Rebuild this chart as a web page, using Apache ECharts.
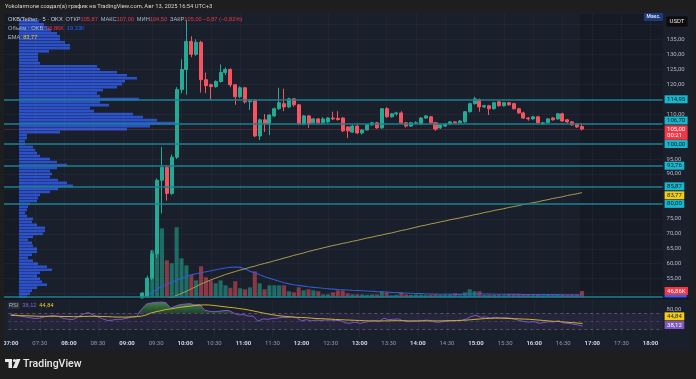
<!DOCTYPE html>
<html><head><meta charset="utf-8">
<script src="https://cdn.jsdelivr.net/npm/echarts@6/dist/echarts.min.js"></script>
<style>html,body{margin:0;padding:0;background:#1e1e1e;}#c{width:696px;height:379px;}</style>
</head><body><div id="c"></div><script>
// ---------------- data ----------------
const timeTicks = ['07:00','07:30','08:00','08:30','09:00','09:30','10:00','10:30','11:00','11:30','12:00','12:30','13:00','13:30','14:00','14:30','15:00','15:30','16:00','16:30','17:00','17:30','18:00'];
const priceTicks = [55,60,65,70,75,90,95,110,120,125,130,135];
const gridPrices = [50,55,60,65,70,75,80,85,90,95,100,105,110,115,120,125,130,135,140];
const rsiTicks = [80];
const firstCandleTime = '09:20';
const opens = [48.6,49.0,55.2,63.3,87.9,92.2,83.5,95.6,118.2,124.9,
  134.3,130.0,134.0,121.5,119.8,119.2,120.9,123.9,124.9,119.8,
  115.8,118.8,114.1,114.5,102.7,108.1,106.7,109.4,111.8,113.5,
  112.4,115.1,113.1,106.7,109.4,107.1,108.4,107.1,107.4,108.7,
  108.6,108.7,105.7,104.0,106.0,103.7,104.7,106.4,107.1,105.4,
  111.8,109.1,110.1,110.4,107.1,106.0,107.0,106.7,108.7,109.1,
  107.1,105.4,106.0,106.7,107.4,107.1,107.4,110.8,113.5,114.8,
  112.4,112.8,111.8,114.1,112.8,113.8,113.5,111.8,110.4,108.7,
  108.4,109.1,106.7,107.1,108.7,108.4,110.1,108.1,107.4,106.7,
  105.87];
const closes = [50.2,55.2,63.3,87.9,92.2,83.5,95.6,118.2,124.9,134.3,
  130.0,134.0,121.5,119.5,119.2,120.9,123.9,124.9,119.8,115.8,
  118.8,114.1,114.5,102.7,108.1,106.7,109.7,111.8,113.8,112.4,
  115.1,113.1,106.7,109.4,106.7,108.4,107.1,108.4,108.7,108.4,
  108.2,104.4,104.4,106.0,103.7,104.7,106.4,107.1,105.4,111.8,
  109.1,110.1,110.4,107.1,106.0,107.1,107.1,108.7,109.4,107.1,
  105.0,106.4,106.7,107.4,107.1,107.7,110.8,113.5,115.1,112.4,
  112.8,111.8,113.8,112.8,113.8,113.1,111.8,110.4,108.7,108.4,
  109.1,107.1,107.1,108.4,108.1,110.1,107.7,107.4,106.4,105.7,
  105.00];
const highs = [50.5,56.0,64.5,88.5,99.0,93.0,96.5,119.0,128.3,141.5,
  136.0,135.0,134.5,123.9,120.2,121.3,126.6,125.6,125.3,120.0,
  119.3,119.1,115.0,115.0,108.5,110.0,110.0,112.2,118.8,118.5,
  115.5,115.4,113.4,109.7,109.7,108.7,108.7,109.0,109.0,110.8,
  111.0,109.0,106.0,106.4,106.3,105.0,106.7,107.4,107.4,112.0,
  112.3,110.4,110.8,111.0,107.4,107.4,107.6,109.0,109.7,109.4,
  107.4,106.7,107.0,107.7,107.7,108.0,111.0,113.8,115.8,115.2,
  113.1,113.1,114.1,114.4,114.1,114.1,113.8,112.1,110.8,109.0,
  109.4,109.4,107.4,108.7,109.0,110.4,110.4,108.4,107.7,107.0,
  107.00];
const lows = [48.3,48.6,54.5,62.0,76.8,81.1,83.0,95.0,117.0,116.5,
  129.0,129.5,117.2,117.0,114.8,118.8,120.5,123.0,119.0,113.1,
  115.3,113.5,111.4,102.3,101.3,104.0,103.0,109.0,111.4,111.0,
  112.0,112.5,106.3,106.3,105.4,106.8,106.8,106.9,107.1,108.0,
  107.8,104.0,102.0,103.7,103.4,103.2,104.5,106.1,105.1,105.1,
  108.8,108.8,109.5,106.8,105.5,105.7,106.5,106.4,108.4,106.8,
  104.4,105.0,105.7,106.4,106.8,106.8,107.1,110.5,113.2,110.8,
  112.1,109.7,111.5,112.5,112.5,112.8,111.5,110.1,108.4,107.8,
  108.1,106.8,106.4,106.8,107.8,108.1,107.4,107.1,106.1,105.4,
  104.50];
const volumes = [7,112,350,476,513,275,253,521,290,238,
  164,126,231,149,126,104,126,89,71,119,
  67,60,74,193,104,60,89,89,89,89,
  45,37,74,52,60,52,45,22,22,37,
  52,52,30,22,22,22,19,22,22,45,
  37,15,19,37,22,18,20,18,16,20,
  22,17,18,22,30,15,37,60,45,45,
  18,20,17,19,16,18,20,22,19,18,
  16,20,15,18,17,20,22,18,20,22,
  46.86];
const volumeMA = [2,15,37,60,82,97,112,126,141,156,
  167,175,182,190,197,205,212,218,223,225,
  223,212,193,182,167,153,141,130,119,108,
  100,93,88,83,78,74,71,67,64,61,
  58,56,54,52,51,49,47,45,42,41,
  39,37,36,33,32,30,28,27,25,24,
  24,23,23,23,22,22,22,23,24,24,
  24,24,23,23,23,22,22,22,21,21,
  21,20,20,20,20,20,19.5,19.5,19.3,19.3,
  19.33];
const ema = [46.2,46.4,46.8,47.3,47.8,48.3,48.8,49.4,50.1,50.8,
  51.6,52.4,53.2,53.9,54.6,55.2,55.8,56.4,56.9,57.4,
  57.9,58.3,58.8,59.2,59.7,60.1,60.5,61.0,61.4,61.9,
  62.3,62.8,63.2,63.6,64.1,64.5,64.9,65.3,65.7,66.1,
  66.4,66.8,67.1,67.5,67.8,68.2,68.6,68.9,69.3,69.6,
  70.0,70.3,70.7,71.1,71.4,71.8,72.2,72.6,72.9,73.3,
  73.6,74.0,74.3,74.7,75.0,75.3,75.7,76.0,76.4,76.7,
  77.1,77.4,77.8,78.1,78.4,78.8,79.1,79.4,79.8,80.1,
  80.4,80.7,81.1,81.4,81.8,82.1,82.4,82.8,83.1,83.4,
  83.77];
// RSI from 07:00
const rsi = [68,66,63,61,59,57,58,61,63,65,
  61,57,55,55,62,68,72,66,61,56,
  52,53,55,55,58,61,62,80,93,96,
  97,98,97,83,88,92,93,94,91,92,
  78,75,74,75,77,77,71,66,67,63,
  63,50,56,55,57,58,60,59,61,59,
  51,54,51,53,52,53,53,52,52,46,
  45,48,45,47,50,51,49,58,54,55,
  56,51,49,50,50,52,53,50,47,49,
  50,51,51,52,56,62,65,60,61,58,
  60,58,59,58,55,52,49,48,49,45,
  47,49,48,52,46,45,43,41,38.12];
const rsiMA = [65,64.5,64,64,63.5,63,62.5,62.5,62.5,62.5,
  62.5,62,62,61.5,61.5,62,62.5,62.5,62.5,62,
  61.5,61,60.5,60.5,60.5,61,61.5,63,66,71,
  74,76.5,79.5,81,83,85,86.5,88,89.5,90.5,
  91,90.7,89.5,88,86.5,85,84,82,80.5,78.5,
  76,73.5,71,68.5,66.5,64.5,63,62,61,60,
  59.5,59,58,57,56.5,56,55.5,54.5,54,53.5,
  53,52.5,52,51.5,51,51,51,51,51,51.5,
  51.5,51.5,51,51,51,51,51,51,51,51,
  51.5,51.5,52,52.5,53,54,55,56,57,57.5,
  58,58,57.5,57,56.5,56,55.5,55,54,53,
  52,51,50,49.5,48.5,47.5,46.5,45.5,44.84];
// visible-range volume profile, 1-unit price rows starting at 49
const profileLow = 49;
const profileVol = [8,11,13,18,28,23,21,18,21,33,
  28,19,14,9,13,18,18,14,13,9,
  14,24,26,26,18,13,14,8,6,8,
  9,11,18,19,21,31,39,54,48,39,
  31,33,31,38,48,38,31,21,18,16,
  14,6,6,8,8,41,108,131,158,138,
  124,114,75,71,90,81,120,81,78,84,
  98,103,106,118,108,98,81,78,21,19,
  19,19,30,51,51,46,41,41,38,32,
  28,25,20];
const hLines = [114.95,106.70,100.00,92.76,85.87,80.00,48.85];
const lastPrice = 105.00, countdown = '00:21';
const emaLast = 83.77, volLast = 46.86, volMaLast = 19.33, rsiLast = 38.12, rsiMaLast = 44.84;

// ---------------- layout ----------------
const categories = [];
for (let m = 7*60; m <= 18*60+10; m += 5) categories.push(String(Math.floor(m/60)).padStart(2,'0') + ':' + String(m%60).padStart(2,'0'));
const BAND = 4.884, LEFT = 3.26;
const RIGHT = 696 - (LEFT + categories.length*BAND);
const MAIN_TOP = 14, MAIN_BOT = 297.5;
const PRICE_MAX = 135 + (39.3-MAIN_TOP)/2.9925, PRICE_MIN = 135 - (MAIN_BOT-39.3)/2.9925;
const UPP = (PRICE_MAX-PRICE_MIN)/(MAIN_BOT-MAIN_TOP);
const VOL_BOT = 297.3, VOL_MAX = (VOL_BOT-MAIN_TOP)*7.44, VPP = 7.44;
const RSI_TOP = 300, RSI_BOT = 337;
const RSI_MAX = 50 + (321.3-RSI_TOP)/0.4, RSI_MIN = 50 - (RSI_BOT-321.3)/0.4, RPP = 2.5;
const PROF_TOP = 39.3 - ((profileLow+profileVol.length-0.5)-135)*2.9925;
const PROF_BOT = 39.3 + (135-(profileLow-0.5))*2.9925;

const fmt = v => v.toFixed(2).replace('.', ',');
const pad = categories.indexOf(firstCandleTime);
const at = (arr, k) => { const i = k - pad; return (i >= 0 && i < arr.length) ? arr[i] : '-'; };
const candleData = categories.map((c,k) => { const i = k-pad; return (i>=0 && i<opens.length) ? [opens[i], closes[i], lows[i], highs[i]] : '-'; });
const volData = categories.map((c,k) => { const i = k-pad; if (i<0 || i>=volumes.length) return '-';
  return {value: volumes[i], itemStyle: {color: closes[i] >= opens[i] ? 'rgba(34,171,148,0.55)' : 'rgba(247,82,95,0.5)'}}; });
const volMaData = categories.map((c,k) => at(volumeMA,k));
const emaData = categories.map((c,k) => at(ema,k));
const rsiData = categories.map((c,k) => k < rsi.length ? rsi[k] : '-');
const rsiMaData = categories.map((c,k) => k < rsiMA.length ? rsiMA[k] : '-');
const rsiHot = categories.map((c,k) => k < rsi.length ? Math.max(rsi[k], 70) : '-');
const profCats = profileVol.map((v,i) => String(profileLow+i));
const blank = categories.map(() => '-');

const tagLabel = (text, bg, fg) => ({show:true, position:'end', distance:2, formatter:text, backgroundColor:bg, color:fg,
  padding:[1,2.5,0.5,2.5], fontSize:6, lineHeight:6.5, fontFamily:'Roboto'});
const HIDE = {color:'rgba(0,0,0,0)', width:0.01};
const tag = (value, axisKey, text, bg, fg) => ({[axisKey]: value, lineStyle:HIDE, label: tagLabel(text,bg,fg)});
const CY = '#19b6cb', CYT = '#0b1a24';

const catAxis = (gi, extra) => Object.assign({type:'category', gridIndex:gi, data:categories, boundaryGap:true,
  axisLine:{show:false}, axisTick:{show:false}, axisLabel:{show:false}, splitLine:{show:false}}, extra||{});

const option = {
  animation:false,
  backgroundColor:'#1a1f2c',
  textStyle:{fontFamily:'Roboto, sans-serif'},
  grid:[
    {left:LEFT, right:RIGHT, top:MAIN_TOP, bottom:379-MAIN_BOT},
    {left:LEFT, right:RIGHT, top:MAIN_TOP, bottom:379-VOL_BOT},
    {left:19, right:696-619, top:PROF_TOP, bottom:379-PROF_BOT},
    {left:LEFT, right:RIGHT, top:RSI_TOP, bottom:379-RSI_BOT}
  ],
  xAxis:[
    catAxis(0), catAxis(1),
    {type:'value', gridIndex:2, min:0, max:600, show:false},
    catAxis(3, {axisLabel:{show:true, margin:3, interval:(i,v)=>timeTicks.includes(v),
      formatter: v => v.endsWith(':00') ? '{h|'+v+'}' : '{m|'+v+'}',
      rich:{h:{color:'#d1d4dc', fontWeight:'bold', fontSize:6}, m:{color:'#9598a1', fontSize:6}}}})
  ],
  yAxis:[
    {type:'value', gridIndex:0, position:'right', min:PRICE_MIN, max:PRICE_MAX, axisLine:{show:false}, axisTick:{show:false}, splitLine:{show:false},
      axisLabel:{customValues:priceTicks, formatter:v=>fmt(v), color:'#b2b5be', fontSize:6, margin:4}},
    {type:'value', gridIndex:1, min:0, max:VOL_MAX, show:false},
    {type:'category', gridIndex:2, data:profCats, show:false},
    {type:'value', gridIndex:3, position:'right', min:RSI_MIN, max:RSI_MAX, axisLine:{show:false}, axisTick:{show:false}, splitLine:{show:false},
      axisLabel:{customValues:rsiTicks, formatter:v=>fmt(v), color:'#b2b5be', fontSize:6, margin:4}}
  ],
  series:[
    {name:'grid', type:'line', xAxisIndex:0, yAxisIndex:0, data:blank, z:0, silent:true,
      markLine:{silent:true, symbol:['none','none'], label:{show:false},
        data:[...gridPrices.map(p=>({yAxis:p, lineStyle:{color:'rgba(255,255,255,0.035)', width:1, type:'solid'}})),
              ...timeTicks.slice(1).map(t=>({xAxis:t, lineStyle:{color:'rgba(255,255,255,0.035)', width:1, type:'solid'}}))]}},
    {name:'rsigrid', type:'line', xAxisIndex:3, yAxisIndex:3, data:blank, z:0, silent:true,
      markLine:{silent:true, symbol:['none','none'], label:{show:false},
        data:timeTicks.slice(1).map(t=>({xAxis:t, lineStyle:{color:'rgba(255,255,255,0.035)', width:1, type:'solid'}}))}},
    {name:'profile', type:'bar', xAxisIndex:2, yAxisIndex:2, data:profileVol, barWidth:'88%', z:1, silent:true,
      itemStyle:{color:'#2b50c8'}},
    {name:'volume', type:'bar', xAxisIndex:1, yAxisIndex:1, data:volData, barWidth:'84%', z:1.5, silent:true,
      markLine:{silent:true, symbol:['none','none'], data:[
        {yAxis: volMaLast - 1.5*VPP, lineStyle:HIDE, label:{show:true, position:'end', distance:2, formatter:'{s| }',
          rich:{s:{width:22, height:2.4, lineHeight:2.4, fontSize:2, backgroundColor:'#2962ff'}}}},
        tag(volLast, 'yAxis', fmt(volLast)+'K', '#f23645', '#ffffff')]}},
    {name:'volMA', type:'line', xAxisIndex:1, yAxisIndex:1, data:volMaData, symbol:'none', z:1.6, silent:true,
      lineStyle:{color:'#2f5bd6', width:1.1}},
    {name:'candles', type:'candlestick', xAxisIndex:0, yAxisIndex:0, data:candleData, barWidth:'72%', z:3, silent:true,
      itemStyle:{color:'#22ab94', color0:'#f7525f', borderColor:'#22ab94', borderColor0:'#f7525f', borderWidth:1},
      markLine:{silent:true, symbol:['none','none'], data:[
        ...hLines.map(v=>({yAxis:v, lineStyle:{color:'#1b8192', width:1.5, type:'solid'}, label:{show:false}})),
        {yAxis:lastPrice, lineStyle:{color:'rgba(242,54,69,0.4)', width:1, type:'dotted'}, label:{show:false}},
        tag(114.95, 'yAxis', fmt(114.95), CY, CYT),
        tag(106.70 + 3.5*UPP, 'yAxis', fmt(106.70), CY, CYT),
        tag(100.00, 'yAxis', fmt(100.00), CY, CYT),
        tag(92.76, 'yAxis', fmt(92.76), CY, CYT),
        tag(85.87, 'yAxis', fmt(85.87), CY, CYT),
        tag(80.00, 'yAxis', fmt(80.00), CY, CYT),
        tag(lastPrice - 3.5*UPP, 'yAxis', fmt(lastPrice)+'\n'+countdown, '#f23645', '#ffffff')
      ]}},
    {name:'EMA', type:'line', xAxisIndex:0, yAxisIndex:0, data:emaData, symbol:'none', z:3.5, silent:true,
      lineStyle:{color:'#a99b4c', width:1},
      markLine:{silent:true, symbol:['none','none'], data:[tag(emaLast - 2.7*UPP, 'yAxis', fmt(emaLast), '#f2cc15', '#1a1a1a')]}},
    {name:'rsiHot', type:'line', xAxisIndex:3, yAxisIndex:3, data:rsiHot, symbol:'none', z:2, silent:true,
      lineStyle:{opacity:0},
      areaStyle:{origin:70, color:new echarts.graphic.LinearGradient(0,0,0,1,[{offset:0,color:'rgba(86,185,90,0.95)'},{offset:1,color:'rgba(46,125,50,0.55)'}])}},
    {name:'RSI', type:'line', xAxisIndex:3, yAxisIndex:3, data:rsiData, symbol:'none', z:3, silent:true,
      lineStyle:{color:'#7e57c2', width:1},
      markArea:{silent:true, itemStyle:{color:'rgba(126,87,194,0.10)'}, data:[[{yAxis:30},{yAxis:70}]]},
      markLine:{silent:true, symbol:['none','none'], data:[
        {yAxis:70, lineStyle:{color:'rgba(120,123,134,0.55)', width:1, type:[3,3]}, label:{show:false}},
        {yAxis:50, lineStyle:{color:'rgba(120,123,134,0.35)', width:1, type:[3,3]}, label:{show:false}},
        {yAxis:30, lineStyle:{color:'rgba(120,123,134,0.55)', width:1, type:[3,3]}, label:{show:false}},
        tag(rsiLast + 1*RPP, 'yAxis', fmt(rsiLast), '#7e57c2', '#ffffff')
      ]}},
    {name:'RSI MA', type:'line', xAxisIndex:3, yAxisIndex:3, data:rsiMaData, symbol:'none', z:3.2, silent:true,
      lineStyle:{color:'#d4b12e', width:1},
      markLine:{silent:true, symbol:['none','none'], data:[tag(rsiMaLast + 7*RPP, 'yAxis', fmt(rsiMaLast), '#f2cc15', '#1a1a1a')]}}
  ],
  graphic:[
    {type:'rect', z:-10, silent:true, shape:{x:4, y:MAIN_TOP, width:15, height:MAIN_BOT-MAIN_TOP}, style:{fill:'#161a24'}},
    {type:'rect', z:-10, silent:true, shape:{x:580, y:MAIN_TOP, width:662.6-580, height:MAIN_BOT-MAIN_TOP}, style:{fill:'#161a25'}},
    {type:'rect', z:-10, silent:true, shape:{x:4, y:298, width:688, height:1.2}, style:{fill:'#12151d'}},
    // outer frame
    {type:'rect', z:100, silent:true, shape:{x:0, y:0, width:696, height:12}, style:{fill:'#1e1e1e'}},
    {type:'rect', z:100, silent:true, shape:{x:0, y:350, width:696, height:29}, style:{fill:'#1e1e1e'}},
    {type:'rect', z:100, silent:true, shape:{x:0, y:0, width:4, height:379}, style:{fill:'#1e1e1e'}},
    {type:'rect', z:100, silent:true, shape:{x:691, y:0, width:5, height:379}, style:{fill:'#1e1e1e'}},
    {type:'text', z:101, silent:true, style:{x:5, y:6.5, text:'Yokolarmone создал(а) график на TradingView.com, Авг 13, 2025 16:54 UTC+3',
      fill:'#d6d6d6', fontSize:5.8, fontFamily:'Roboto', verticalAlign:'middle'}},
    {type:'text', z:101, silent:true, style:{x:8, y:19, verticalAlign:'middle', fontFamily:'Roboto', fontSize:5.7,
      text:'{w|OKB/Tether · 5 · OKX}  {g|ОТКР}{r|105,87}  {g|МАКС}{r|107,00}  {g|МИН}{r|104,50}  {g|ЗАКР}{r|105,00} {r|−0,87 (−0,82%)}',
      rich:{w:{fill:'#d1d4dc', fontSize:5.7}, g:{fill:'#b2b5be', fontSize:5.7}, r:{fill:'#f23645', fontSize:5.7}}}},
    {type:'text', z:101, silent:true, style:{x:8, y:28, verticalAlign:'middle', fontFamily:'Roboto', fontSize:5.7,
      text:'{g|Объём · OKB}  {r|46,86K}  {b|19,33K}',
      rich:{g:{fill:'#b2b5be', fontSize:5.7}, r:{fill:'#f23645', fontSize:5.7}, b:{fill:'#2962ff', fontSize:5.7}}}},
    {type:'text', z:101, silent:true, style:{x:8, y:37, verticalAlign:'middle', fontFamily:'Roboto', fontSize:5.7,
      text:'{g|EMA}  {y|83,77}', rich:{g:{fill:'#b2b5be', fontSize:5.7}, y:{fill:'#f2cc15', fontSize:5.7}}}},
    {type:'text', z:101, silent:true, style:{x:8, y:305.5, verticalAlign:'middle', fontFamily:'Roboto', fontSize:5.7,
      text:'{g|RSI}  {p|38,12}  {y|44,84}', rich:{g:{fill:'#b2b5be', fontSize:5.7, backgroundColor:'#2a2e39', padding:[0.5,1]}, p:{fill:'#8a63d2', fontSize:5.7}, y:{fill:'#f2cc15', fontSize:5.7}}}},
    // Макс. button and currency box
    {type:'rect', z:101, silent:true, shape:{x:644, y:13, width:19, height:8, r:1}, style:{fill:'#1f3a78'}},
    {type:'text', z:102, silent:true, style:{x:653.5, y:17, text:'Макс.', fill:'#d0dbf5', fontSize:5, fontWeight:'bold', fontFamily:'Roboto', align:'center', verticalAlign:'middle'}},
    {type:'rect', z:101, silent:true, shape:{x:666, y:16, width:22, height:11, r:1.5}, style:{fill:'#0c0c0e', stroke:'#2a2a2e', lineWidth:0.5}},
    {type:'text', z:102, silent:true, style:{x:677, y:21.5, text:'USDT', fill:'#e6e6e6', fontSize:6, fontFamily:'Roboto', align:'center', verticalAlign:'middle'}},
    // TradingView logo
    {type:'rect', z:101, silent:true, shape:{x:5, y:359, width:7, height:3}, style:{fill:'#e8e8e8'}},
    {type:'rect', z:101, silent:true, shape:{x:8.5, y:359, width:3.5, height:9}, style:{fill:'#e8e8e8'}},
    {type:'circle', z:101, silent:true, shape:{cx:14.5, cy:360.5, r:1.6}, style:{fill:'#e8e8e8'}},
    {type:'polygon', z:101, silent:true, shape:{points:[[16.5,359],[20.5,359],[16.8,368],[12.8,368]]}, style:{fill:'#e8e8e8'}},
    {type:'text', z:101, silent:true, style:{x:23, y:364, text:'TradingView', fill:'#e8e8e8', fontSize:10.5, fontFamily:'Roboto', fontWeight:500, verticalAlign:'middle'}}
  ]
};
const chart = echarts.init(document.getElementById('c'), null, {renderer:'canvas'});
chart.setOption(option);
</script></body></html>
